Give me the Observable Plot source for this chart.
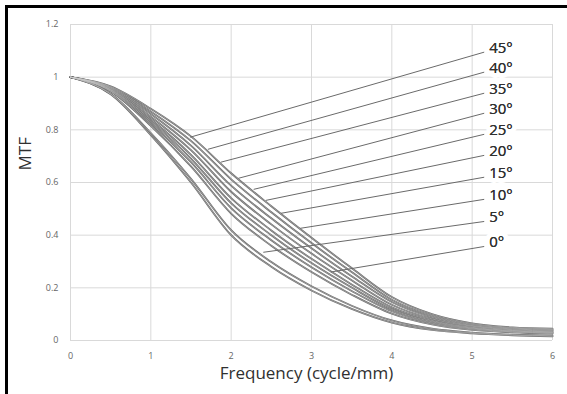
<!DOCTYPE html>
<html>
<head>
<meta charset="utf-8">
<script src="https://cdn.jsdelivr.net/npm/d3@7"></script>
<script src="https://cdn.jsdelivr.net/npm/@observablehq/plot@0.6"></script>
<style>
  html, body { margin: 0; padding: 0; background: #fff; overflow: hidden; }
  #wrap { position: relative; width: 567px; height: 394px; overflow: hidden; }
  .bar { position: absolute; background: #000; pointer-events: none; }
  #bl { left: 5px; top: 5px; width: 3px; height: 389px; }
  #bt { left: 5px; top: 5px; width: 562px; height: 3px; }
</style>
</head>
<body>
<div id="wrap"><div class="bar" id="bl"></div><div class="bar" id="bt"></div></div>
<script>
// Frequency samples (cycle/mm)
const freq = [0, 0.5, 1, 1.5, 2, 2.5, 3, 3.5, 4, 4.5, 5, 5.5, 6];

// MTF curves (one per field angle)
const mtfA = [1, 0.965, 0.880, 0.775, 0.635, 0.510, 0.390, 0.275, 0.165, 0.100, 0.065, 0.050, 0.045];
const mtfB = [1, 0.962, 0.870, 0.758, 0.612, 0.487, 0.370, 0.260, 0.155, 0.094, 0.061, 0.047, 0.042];
const mtfC = [1, 0.959, 0.860, 0.740, 0.588, 0.464, 0.350, 0.244, 0.146, 0.088, 0.057, 0.044, 0.039];
const mtfD = [1, 0.956, 0.850, 0.723, 0.565, 0.441, 0.330, 0.229, 0.136, 0.082, 0.054, 0.041, 0.036];
const mtfE = [1, 0.953, 0.840, 0.705, 0.541, 0.418, 0.310, 0.213, 0.126, 0.076, 0.050, 0.038, 0.033];
const mtfF = [1, 0.951, 0.832, 0.691, 0.522, 0.400, 0.294, 0.201, 0.118, 0.071, 0.047, 0.036, 0.031];
const mtfG = [1, 0.948, 0.824, 0.677, 0.503, 0.381, 0.278, 0.188, 0.111, 0.066, 0.044, 0.033, 0.029];
const mtfH = [1, 0.946, 0.815, 0.661, 0.482, 0.360, 0.260, 0.174, 0.102, 0.061, 0.040, 0.031, 0.026];
const mtfI = [1, 0.937, 0.788, 0.614, 0.419, 0.298, 0.206, 0.132, 0.076, 0.045, 0.030, 0.022, 0.018];
const mtfJ = [1, 0.935, 0.780, 0.600, 0.400, 0.280, 0.190, 0.120, 0.068, 0.040, 0.027, 0.020, 0.016];
const curves = [mtfA, mtfB, mtfC, mtfD, mtfE, mtfF, mtfG, mtfH, mtfI, mtfJ];

// Angle labels and their leader lines
const angleLabels = ["45°", "40°", "35°", "30°", "25°", "20°", "15°", "10°", "5°", "0°"];
const labelX = [5.15, 5.15, 5.15, 5.15, 5.15, 5.15, 5.15, 5.15, 5.15, 5.15];
const labelY = [1.095, 1.019, 0.939, 0.863, 0.783, 0.703, 0.620, 0.536, 0.452, 0.357];
const leaderX = [1.49, 1.71, 1.87, 2.09, 2.28, 2.43, 2.62, 2.86, 2.40, 3.24];
const leaderY = [0.772, 0.726, 0.677, 0.616, 0.574, 0.532, 0.483, 0.426, 0.335, 0.260];

// Axis ticks
const xTicks = [0, 1, 2, 3, 4, 5, 6];
const xTickLabels = ["0", "1", "2", "3", "4", "5", "6"];
const yTicks = [0, 0.2, 0.4, 0.6, 0.8, 1, 1.2];
const yTickLabels = ["0", "0.2", "0.4", "0.6", "0.8", "1", "1.2"];

const curveData = curves.flatMap((c, i) => c.map((v, j) => ({curve: i, f: freq[j], mtf: v})));
const leaders = angleLabels.map((t, i) => ({label: t, x1: labelX[i], y1: labelY[i], x2: leaderX[i], y2: leaderY[i]}));

const font = "'Open Sans', sans-serif";

const chart = Plot.plot({
  width: 567,
  height: 394,
  marginLeft: 70,
  marginRight: 15,
  marginTop: 24,
  marginBottom: 54,
  style: {fontFamily: font, background: "transparent"},
  x: {domain: [0, 6]},
  y: {domain: [0, 1.2]},
  marks: [
    Plot.gridX(xTicks, {stroke: "#d9d9d9", strokeOpacity: 1, strokeWidth: 1}),
    Plot.gridY(yTicks, {stroke: "#d9d9d9", strokeOpacity: 1, strokeWidth: 1}),
    Plot.axisX(xTicks, {tickSize: 0, tickPadding: 12, tickFormat: (d, i) => xTickLabels[i], fontSize: 9, fill: "#666", label: null}),
    Plot.axisY(yTicks, {tickSize: 0, tickPadding: 12, tickFormat: (d, i) => yTickLabels[i], fontSize: 9, fill: "#666", label: null}),
    Plot.line(curveData, {x: "f", y: "mtf", z: "curve", stroke: "#6a6a6a", strokeWidth: 1.8, curve: "monotone-x"}),
    Plot.line(curveData, {x: "f", y: "mtf", z: "curve", stroke: "#c8c8c8", strokeWidth: 0.5, curve: "monotone-x"}),
    Plot.text(leaders, {x: "x1", y: "y1", text: "label", textAnchor: "start", dx: 5, dy: -4,
      fontSize: 15, fill: "#303030", stroke: "white", strokeWidth: 10, fontFamily: font}),
    Plot.link(leaders, {x1: "x1", y1: "y1", x2: "x2", y2: "y2", stroke: "#6a6a6a", strokeWidth: 1}),
    Plot.text(leaders, {x: "x1", y: "y1", text: "label", textAnchor: "start", dx: 5, dy: -4,
      fontSize: 15, fill: "#303030", fontFamily: font}),
    Plot.text(["MTF"], {frameAnchor: "left", rotate: -90, dx: -45, dy: -12, fontSize: 17, fill: "#303030", fontFamily: font}),
    Plot.text(["Frequency (cycle/mm)"], {frameAnchor: "bottom", dx: -5, dy: 38, fontSize: 17, fill: "#303030", fontFamily: font})
  ]
});
chart.style.position = "absolute";
chart.style.left = "0px";
chart.style.top = "0px";
document.getElementById("wrap").insertBefore(chart, document.getElementById("bl"));
</script>
</body>
</html>
